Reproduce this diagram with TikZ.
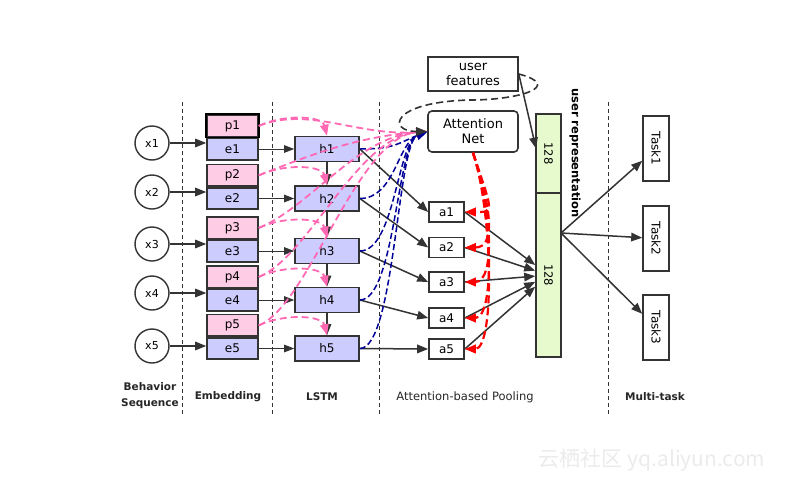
\documentclass[tikz,border=0pt]{standalone}
\usepackage{fontspec}
\setmainfont{DejaVu Sans}
\newfontfamily\cjkfont{Noto Sans CJK SC}
\usetikzlibrary{calc}
\usetikzlibrary{arrows.meta}
\definecolor{linegray}{HTML}{333333}
\definecolor{pinkfill}{HTML}{FFCCE5}
\definecolor{bluefill}{HTML}{CCCCFF}
\definecolor{greenfill}{HTML}{E6FACD}
\definecolor{pinkline}{HTML}{FF69B4}
\definecolor{navyline}{HTML}{000099}
\begin{document}
\begin{tikzpicture}[x=1pt, y=-1pt, >={Triangle[length=11pt,width=8.5pt]},
  box/.style={draw=linegray, line width=1.6pt, inner sep=0pt, font=\fontsize{12}{12}\selectfont},
  pbox/.style={box, fill=pinkfill, minimum width=51pt, minimum height=21.5pt},
  ebox/.style={box, fill=bluefill, minimum width=51pt, minimum height=21.5pt},
  hbox/.style={box, fill=bluefill, minimum width=64pt, minimum height=25pt},
  abox/.style={box, fill=white, minimum width=35pt, minimum height=20pt},
  xnode/.style={circle, draw=linegray, line width=1.4pt, minimum size=34pt, inner sep=0pt, font=\fontsize{11}{11}\selectfont},
  repbox/.style={box, fill=greenfill, rotate=-90, minimum height=25pt, font=\fontsize{11.5}{11.5}\selectfont},
  taskbox/.style={box, rotate=-90, minimum width=65pt, minimum height=26pt},
  bigbox/.style={box, minimum width=90pt, font=\fontsize{13}{15}\selectfont, align=center},
  arr/.style={->, draw=linegray, line width=1.5pt},
  thinarr/.style={->, draw=linegray, line width=0.9pt, >={Triangle[length=10pt,width=7.5pt]}},
  pinkarr/.style={->, pinkline, line width=1.8pt, dash pattern=on 7pt off 4pt},
  navyarr/.style={->, navyline, line width=1.5pt, dash pattern=on 6pt off 3pt},
  redarr/.style={->, red, line width=2.2pt, dash pattern=on 8pt off 4pt},
  grayarr/.style={->, linegray, line width=1.6pt, dash pattern=on 7pt off 4pt},
  sep/.style={linegray, line width=0.8pt, dash pattern=on 4pt off 3pt},
  caption/.style={text=black!85, font=\bfseries\fontsize{10.5}{16}\selectfont, align=center}
]
\useasboundingbox (0,0) rectangle (795,485);
\foreach \x in {182, 272, 379, 608} {
 \draw[sep] (\x,102) -- (\x,415);
}
\foreach \i/\y/\ya/\yx in {1/149/212/143, 2/198.5/247.5/192, 3/251/282/244, 4/300/318/293, 5/348.5/349/346} {
 \node[xnode] (x\i) at (152,\yx) {x\i};
 \node[ebox] (e\i) at (232.5,\y) {e\i};
 \node[pbox, anchor=south] (p\i) at (e\i.north) {p\i};
 \node[hbox] (h\i) at (327,\y) {h\i};
 \node[abox] (a\i) at (446.5,\ya) {a\i};
}
\draw[black, line width=1.8pt] (p1.south west) rectangle (p1.north east);
\node[bigbox, minimum height=34pt] (user) at (473,74) {user\\features};
\node[bigbox, minimum height=41pt, rounded corners=4pt] (att) at (473,131.5) {Attention\\Net};
\node[repbox, minimum width=79pt] (rep1) at (548.5,153.5) {128};
\node[repbox, minimum width=164pt] (rep2) at (548.5,275) {128};
\node[rotate=-90, font=\bfseries\fontsize{11.5}{11.5}\selectfont] (replabel) at (575,153) {user representation};
\foreach \j/\y in {1/148.5, 2/238.5, 3/327.5} {
 \node[taskbox] (task\j) at (656,\y) {Task\j};
}
\foreach \i in {1,...,5} {
 \draw[arr] (x\i.east) -- (x\i.east -| p\i.west);
 \draw[thinarr] (e\i) -- (h\i);
 \draw[arr] (h\i.east) -- (a\i.west);
 \draw[arr] (a\i.east) -- (rep2);
}
\foreach \i [count=\k from 2] in {1,...,4} {
 \draw[arr] (h\i) -- (h\k);
}
\foreach \i in {1,...,5} {
 \draw[pinkarr] (p\i.east) .. controls +(25,-12) and +(-5,-20) .. (h\i.north);
 \draw[pinkarr] (p\i.east) .. controls +(50,-20) and +(-70,5) .. (att.west);
 \draw[navyarr] (h\i.east) .. controls +(35,0) and +(-30,12) .. (att.west);
 \draw[redarr] (att.south) .. controls +(20,60) and +(30,0) .. (a\i.east);
}
\draw[grayarr] (user.east) .. controls +(45,12) and +(50,0) .. (470,100) .. controls +(-80,2) and +(-40,0) .. (att.west);
\draw[arr] (user.east) -- ($(rep1.center)+(-12.5,-5)$);
\coordinate (out) at ($(rep2.center)+(12.5,-42)$);
\foreach \j in {1,2,3} {
 \draw[arr] (out) -- (task\j);
}
\node[caption] (cbeh) at (150,396) {Behavior\\Sequence};
\node[caption] (cemb) at (228,397) {Embedding};
\node[caption] (clstm) at (322,397) {LSTM};
\node[caption, font=\fontsize{11.5}{12}\selectfont] (catt) at (465,397) {Attention-based Pooling};
\node[caption] (cmulti) at (655,397) {Multi-task};
\node[text=black!8, font=\cjkfont\fontsize{21}{21}\selectfont] (mark) at (652,460) {云栖社区 yq.aliyun.com};
\end{tikzpicture}
\end{document}
